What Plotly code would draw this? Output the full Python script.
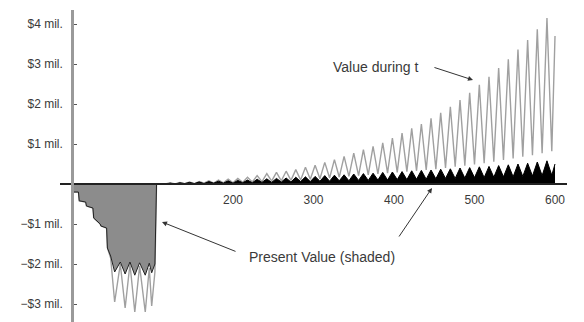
import plotly.graph_objects as go

# ---- Data (months t, values in $ millions) ----
# Early (negative) phase: value during t (gray line)
early_t = [0, 0, 8, 9, 17, 18, 26, 27, 35, 36, 43, 44, 48, 53, 60, 66, 72, 78, 84, 91, 96, 99, 103, 105, 116]
early_value = [0, -0.2, -0.2, -0.42, -0.45, -0.55, -0.6, -0.85, -1.0, -1.05, -1.1, -1.6, -1.85, -2.95,
               -2.0, -3.1, -2.0, -3.2, -2.05, -3.2, -2.1, -3.05, -2.2, 0, 0]
# Early phase: present value (shaded boundary)
early_pv_t = [0, 0, 8, 9, 17, 18, 26, 27, 35, 36, 43, 44, 48, 53, 60, 66, 72, 78, 84, 91, 96, 99, 103, 105]
early_pv = [0, -0.2, -0.2, -0.42, -0.45, -0.55, -0.6, -0.85, -1.0, -1.05, -1.1, -1.6, -1.8, -2.2,
            -1.95, -2.25, -1.95, -2.28, -1.97, -2.28, -1.98, -2.22, -2.0, 0]

# Seasonal cycles (positive phase): peak and trough months
peak_t = [122, 134, 146, 158, 170, 182, 194, 206, 218, 230, 242, 254, 266, 278, 290, 302, 314, 326, 338, 350,
          362, 374, 386, 398, 410, 422, 434, 446, 458, 470, 482, 494, 506, 518, 530, 542, 554, 566, 578, 590]
trough_t = [128, 140, 152, 164, 176, 188, 200, 212, 224, 236, 248, 260, 272, 284, 296, 308, 320, 332, 344, 356,
            368, 380, 392, 404, 416, 428, 440, 452, 464, 476, 488, 500, 512, 524, 536, 548, 560, 572, 584, 596]
value_peaks = [0.03, 0.04, 0.05, 0.06, 0.08, 0.10, 0.12, 0.14, 0.17, 0.21, 0.26, 0.29, 0.32, 0.36, 0.42, 0.47,
               0.54, 0.61, 0.69, 0.77, 0.86, 0.94, 1.03, 1.15, 1.27, 1.39, 1.50, 1.64, 1.78, 1.93, 2.10, 2.28,
               2.48, 2.68, 2.90, 3.12, 3.36, 3.60, 3.87, 4.15]
value_troughs = [0.0, 0.01, 0.01, 0.02, 0.02, 0.03, 0.03, 0.04, 0.05, 0.06, 0.07, 0.08, 0.09, 0.10, 0.12, 0.13,
                 0.15, 0.17, 0.19, 0.21, 0.23, 0.25, 0.27, 0.29, 0.31, 0.33, 0.35, 0.37, 0.40, 0.43, 0.46, 0.49,
                 0.52, 0.56, 0.60, 0.64, 0.68, 0.72, 0.77, 0.82]
pv_peaks = [0.02, 0.03, 0.04, 0.05, 0.06, 0.07, 0.08, 0.09, 0.10, 0.12, 0.13, 0.14, 0.15, 0.17, 0.18, 0.19,
            0.21, 0.22, 0.23, 0.25, 0.26, 0.27, 0.29, 0.30, 0.31, 0.33, 0.34, 0.35, 0.37, 0.38, 0.40, 0.41,
            0.43, 0.44, 0.46, 0.48, 0.50, 0.52, 0.55, 0.58]
pv_troughs = [0.0, 0.01, 0.01, 0.01, 0.02, 0.02, 0.02, 0.03, 0.03, 0.04, 0.04, 0.05, 0.05, 0.06, 0.06, 0.07,
              0.07, 0.08, 0.08, 0.09, 0.09, 0.10, 0.10, 0.11, 0.11, 0.12, 0.12, 0.13, 0.14, 0.14, 0.15, 0.16,
              0.16, 0.17, 0.18, 0.18, 0.19, 0.20, 0.21, 0.22]
end_t = 600
end_value = 3.7
end_pv = 0.5

y_tickvals = [-3, -2, -1, 1, 2, 3, 4]
y_ticktext = ["\u2212$3 mil.", "\u2212$2 mil.", "\u2212$1 mil.", "$1 mil.", "$2 mil.", "$3 mil.", "$4 mil."]
x_tickvals = [200, 300, 400, 500, 600]

# ---- Build series ----
cyc_t, cyc_val, cyc_pv = [], [], []
for pt, tt, vp, vt, pp, ptr in zip(peak_t, trough_t, value_peaks, value_troughs, pv_peaks, pv_troughs):
    cyc_t += [pt, tt]
    cyc_val += [vp, vt]
    cyc_pv += [pp, ptr]

gray_x = early_t + cyc_t + [end_t]
gray_y = early_value + cyc_val + [end_value]
pos_x = [105, 116] + cyc_t + [end_t]
pos_y = [0, 0] + cyc_pv + [end_pv]

FONT = "Liberation Sans, Arial, sans-serif"
TXT = "#3a3a3a"

fig = go.Figure()
fig.add_trace(go.Scatter(x=gray_x, y=gray_y, mode="lines",
                         line=dict(color="#a0a0a0", width=1.4), hoverinfo="skip"))
fig.add_trace(go.Scatter(x=early_pv_t, y=early_pv, mode="lines", fill="tozeroy",
                         fillcolor="#8c8c8c", line=dict(color="#222222", width=1), hoverinfo="skip"))
fig.add_trace(go.Scatter(x=pos_x, y=pos_y, mode="lines", fill="tozeroy",
                         fillcolor="#000000", line=dict(color="#000000", width=1), hoverinfo="skip"))

x0, x1 = -14.9, 614.9
y0, y1 = -3.45, 4.35

# page body adds an 8px offset: figure is 576x314 so the plot lands where the reference has it
fig.update_layout(
    width=576, height=314,
    margin=dict(l=52, r=17, t=2, b=0),
    paper_bgcolor="white", plot_bgcolor="white",
    showlegend=False,
    font=dict(family=FONT, size=12, color=TXT),
    xaxis=dict(range=[x0, x1], showgrid=False, zeroline=False,
               showline=True, linecolor="#222222", linewidth=1.5,
               anchor="free", position=(0 - y0) / (y1 - y0),
               tickvals=x_tickvals, ticks="", ticklabelstandoff=5,
               tickfont=dict(size=12, color=TXT), automargin=False),
    yaxis=dict(range=[y0, y1], showgrid=False, zeroline=False,
               showline=True, linecolor="#9a9a9a", linewidth=2.5,
               anchor="free", position=(0 - x0) / (x1 - x0),
               tickvals=y_tickvals, ticktext=y_ticktext,
               ticks="inside", ticklen=3, tickcolor="#555555", tickwidth=1,
               ticklabelstandoff=6,
               tickfont=dict(size=12, color=TXT), automargin=False),
)

AF = dict(family=FONT, size=14, color=TXT)
ann = [
    dict(x=377.6, y=2.925, text="Value during t", showarrow=False, font=AF),
    dict(x=498.1, y=2.6, ax=448.4, ay=2.925, axref="x", ayref="y", text="", showarrow=True,
         arrowhead=2, arrowsize=1, arrowwidth=1, arrowcolor="#333333"),
    dict(x=310, y=-1.825, text="Present Value (shaded)", showarrow=False, font=AF),
    dict(x=111.8, y=-0.95, ax=205.0, ay=-1.7, axref="x", ayref="y", text="", showarrow=True,
         arrowhead=2, arrowsize=1, arrowwidth=1, arrowcolor="#333333"),
    dict(x=447.2, y=-0.1, ax=405.0, ay=-1.35, axref="x", ayref="y", text="", showarrow=True,
         arrowhead=2, arrowsize=1, arrowwidth=1, arrowcolor="#333333"),
    dict(x=1.0335, y=0, xref="paper", yref="y", text="t", showarrow=False, xanchor="right",
         font=dict(family=FONT, size=12, color=TXT)),
]
fig.update_layout(annotations=ann)

fig.write_html("out.html")
